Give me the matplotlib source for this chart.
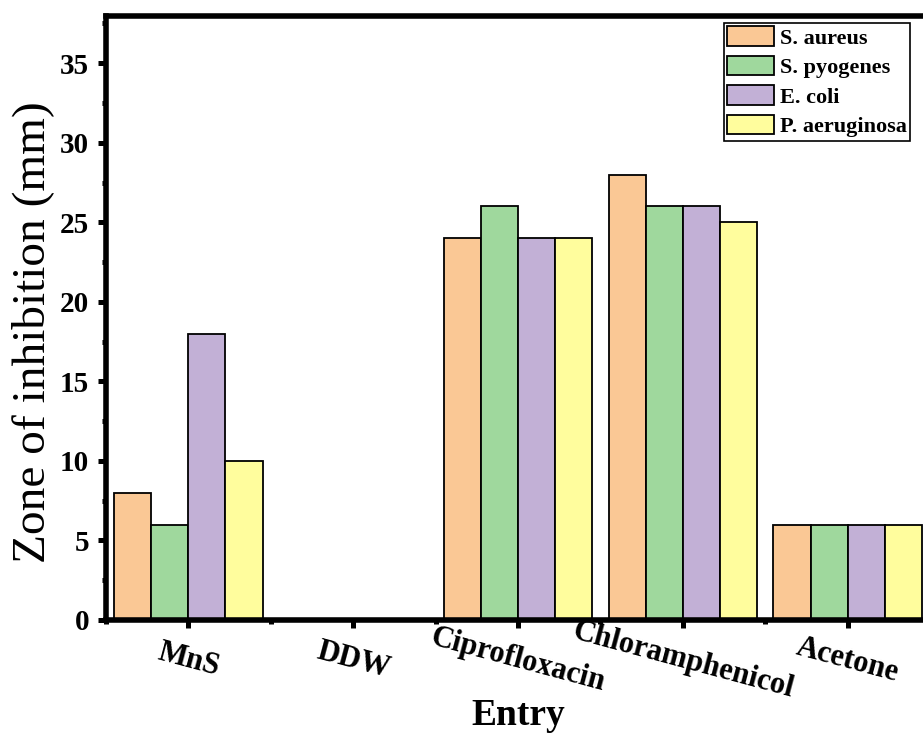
import matplotlib
matplotlib.use("Agg")
import matplotlib.pyplot as plt
import numpy as np
from matplotlib.ticker import MultipleLocator, FixedLocator

plt.rcParams['font.family'] = ['Liberation Serif', 'DejaVu Serif']

categories = ["MnS", "DDW", "Ciprofloxacin", "Chloramphenicol", "Acetone"]
series_names = ["S. aureus", "S. pyogenes", "E. coli", "P. aeruginosa"]
s_aureus = [8, 0, 24, 28, 6]
s_pyogenes = [6, 0, 26, 26, 6]
e_coli = [18, 0, 24, 26, 6]
p_aeruginosa = [10, 0, 24, 25, 6]
series_values = [s_aureus, s_pyogenes, e_coli, p_aeruginosa]
colors = ["#FAC895", "#9FD89D", "#C2B0D6", "#FFFD9D"]

fig = plt.figure(figsize=(9.23, 7.34), dpi=100)
ax = fig.add_axes([106/923, (734-620)/734, 824/923, (620-15.5)/734])

x = np.arange(len(categories))
w = 0.225
for i, (name, vals) in enumerate(zip(series_names, series_values)):
    ax.bar(x + (i - 1.5) * w, vals, width=w, color=colors[i], edgecolor='black',
           linewidth=1.3, label=name, zorder=2)

ax.set_xlim(-0.5, 4.5)
ax.set_ylim(0, 38)
ax.set_xticks(x)
ax.set_xticklabels(categories)
ax.xaxis.set_minor_locator(FixedLocator(np.arange(-0.5, 5, 1.0)))
ax.yaxis.set_major_locator(MultipleLocator(5))
ax.yaxis.set_minor_locator(MultipleLocator(2.5))

for s in ax.spines.values():
    s.set_linewidth(4)
ax.tick_params(axis='both', which='major', direction='out', length=6, width=3.6,
               labelsize=21)
ax.tick_params(axis='x', which='major', labelsize=22, pad=23)
ax.tick_params(axis='both', which='minor', direction='out', length=3, width=3.6)
ax.tick_params(axis='y', which='major', pad=6)
ax.tick_params(top=False, right=False, which='both')

for lab in ax.get_xticklabels():
    lab.set_rotation(-15)
    lab.set_ha('center')
    lab.set_va('center')
    lab.set_rotation_mode('anchor')
    lab.set_fontweight('bold')
for lab in ax.get_yticklabels():
    lab.set_fontweight('bold')

ax.set_xlabel("Entry", fontsize=27, fontweight='bold')
ax.xaxis.label.set_va('baseline')
ax.xaxis.set_label_coords(0.5, (620-725)/603)
ax.set_ylabel("Zone of inhibition (mm)", fontsize=34)
ax.yaxis.label.set_va('center')
ax.yaxis.set_label_coords((33-106)/824, (620-333)/603)

leg = ax.legend(loc='upper left', bbox_to_anchor=(724/923, 1-23/734),
                bbox_transform=fig.transFigure, prop={'weight': 'bold', 'size': 16},
                frameon=True, fancybox=False, edgecolor='black', framealpha=1,
                borderpad=0.15, labelspacing=0.33, handlelength=2.1,
                handleheight=0.95, handletextpad=0.25, borderaxespad=0)
leg.get_frame().set_linewidth(1.2)

fig.savefig("out.png", dpi=100)
